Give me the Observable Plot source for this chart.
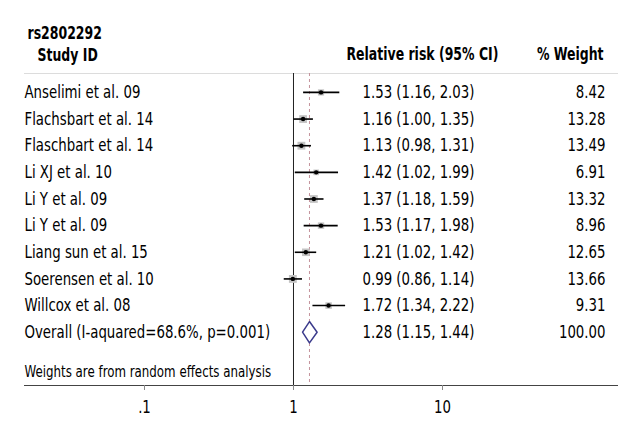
<!DOCTYPE html>
<html><head><meta charset="utf-8">
<script src="https://cdn.jsdelivr.net/npm/d3@7"></script>
<script src="https://cdn.jsdelivr.net/npm/@observablehq/plot@0.6"></script>
<style>
body{margin:0;background:#fff}
#chart svg{font-family:"DejaVu Sans Condensed","DejaVu Sans",sans-serif;font-stretch:condensed}
</style>
</head><body><div id="chart"></div>
<script>
const titleText = "rs2802292";
const studyHeader = "Study ID";
const rrHeader = "Relative risk (95% CI)";
const weightHeader = "% Weight";
const noteText = "Weights are from random effects analysis";

const studies = ["Anselimi et al. 09","Flachsbart et al. 14","Flaschbart et al. 14","Li XJ et al. 10","Li Y et al. 09","Li Y et al. 09","Liang sun et al. 15","Soerensen et al. 10","Willcox et al. 08"];
const rr     = [1.53, 1.16, 1.13, 1.42, 1.37, 1.53, 1.21, 0.99, 1.72];
const lower  = [1.16, 1.00, 0.98, 1.02, 1.18, 1.17, 1.02, 0.86, 1.34];
const upper  = [2.03, 1.35, 1.31, 1.99, 1.59, 1.98, 1.42, 1.14, 2.22];
const weights= [8.42, 13.28, 13.49, 6.91, 13.32, 8.96, 12.65, 13.66, 9.31];

const overallLabel = "Overall (I-aquared=68.6%, p=0.001)";
const overallRR = 1.28, overallLo = 1.15, overallHi = 1.44, overallW = 100.00;

const xTicks = [0.1, 1, 10];
const xTickLabels = [".1", "1", "10"];

const f2 = v => v.toFixed(2);
const rows = studies.map((s, i) => ({label: s, rr: rr[i], lo: lower[i], hi: upper[i], w: weights[i], row: i}));
const overallRow = {label: overallLabel, rr: overallRR, lo: overallLo, hi: overallHi, w: overallW, row: studies.length};
const allRows = [...rows, overallRow];
const diamond = [
  {x: overallLo, y: overallRow.row},
  {x: overallRR, y: overallRow.row - 0.4},
  {x: overallHi, y: overallRow.row},
  {x: overallRR, y: overallRow.row + 0.4},
  {x: overallLo, y: overallRow.row}
];

const FS = 18;
const chart = Plot.plot({
  width: 640, height: 440,
  marginLeft: 24, marginRight: 23, marginTop: 73, marginBottom: 55,
  x: {type: "log", domain: [0.01566, 149.4]},
  y: {domain: [-0.71, 11.0], reverse: true, axis: null},
  r: {domain: [0, 14], range: [0, 4.5]},
  style: {background: "white", overflow: "visible"},
  marks: [
    Plot.frame({anchor: "top", stroke: "#dcdcdc"}),
    Plot.ruleX([1], {stroke: "#222", strokeWidth: 1}),
    Plot.ruleX([overallRR], {stroke: "#c4929c", strokeDasharray: "3,3", strokeWidth: 1}),
    Plot.frame({anchor: "bottom", stroke: "#444"}),
    Plot.axisX({ticks: xTicks, tickFormat: d => xTickLabels[xTicks.indexOf(d)], tickSize: 5, tickPadding: 10, stroke: "#888", fill: "black", fontSize: FS, label: null}),
    Plot.dot(rows, {x: "rr", y: "row", r: "w", symbol: "square", fill: "#c4c4c4"}),
    Plot.link(rows, {x1: "lo", x2: "hi", y1: "row", y2: "row", stroke: "black", strokeWidth: 1.6}),
    Plot.dot(rows, {x: "rr", y: "row", r: 2.2, fill: "black"}),
    Plot.line(diamond, {x: "x", y: "y", stroke: "#3b3b8c", strokeWidth: 1.5, fill: "white"}),
    Plot.text(allRows, {y: "row", text: "label", frameAnchor: "left", textAnchor: "start", fontSize: FS, fill: "black"}),
    Plot.text(allRows, {y: "row", text: d => `${f2(d.rr)} (${f2(d.lo)}, ${f2(d.hi)})`, frameAnchor: "left", dx: 338, textAnchor: "start", fontSize: FS, fill: "black"}),
    Plot.text(allRows, {y: "row", text: d => f2(d.w), frameAnchor: "right", dx: -12, textAnchor: "end", fontSize: FS, fill: "black"}),
    Plot.text([titleText], {y: () => -2.22, text: d => d, frameAnchor: "left", dx: 3, textAnchor: "start", fontSize: FS, fontWeight: "bold", fill: "black"}),
    Plot.text([studyHeader], {y: () => -1.40, text: d => d, frameAnchor: "left", dx: 13, textAnchor: "start", fontSize: FS, fontWeight: "bold", fill: "black"}),
    Plot.text([rrHeader], {y: () => -1.42, text: d => d, frameAnchor: "left", dx: 322, textAnchor: "start", fontSize: FS, fontWeight: "bold", fill: "black"}),
    Plot.text([weightHeader], {y: () => -1.42, text: d => d, frameAnchor: "right", dx: -14, textAnchor: "end", fontSize: FS, fontWeight: "bold", fill: "black"}),
    Plot.text([noteText], {y: () => 10.5, text: d => d, frameAnchor: "left", textAnchor: "start", fontSize: 16, fill: "black"})
  ]
});
document.getElementById("chart").appendChild(chart);

// Condense glyphs horizontally to mimic the reference's condensed typeface
const texts = Array.from(chart.querySelectorAll("text"));
const find = s => texts.find(t => t.textContent === s);
const regRef = find(studies[0]), boldRef = find(rrHeader);
const sReg = Math.min(1, 116 / regRef.getBBox().width);
const sBold = Math.min(1, 152 / boldRef.getBBox().width);
for (const t of texts) {
  const fw = getComputedStyle(t).fontWeight;
  const bold = fw === "bold" || +fw >= 600;
  const s = bold ? sBold : sReg;
  const b = t.getBBox();
  const anchor = getComputedStyle(t).textAnchor;
  const ax = anchor === "end" ? b.x + b.width : anchor === "middle" ? b.x + b.width / 2 : b.x;
  const prev = t.getAttribute("transform") || "";
  t.setAttribute("transform", `${prev} translate(${ax},0) scale(${s},1) translate(${-ax},0)`.trim());
}
</script>
</body></html>
